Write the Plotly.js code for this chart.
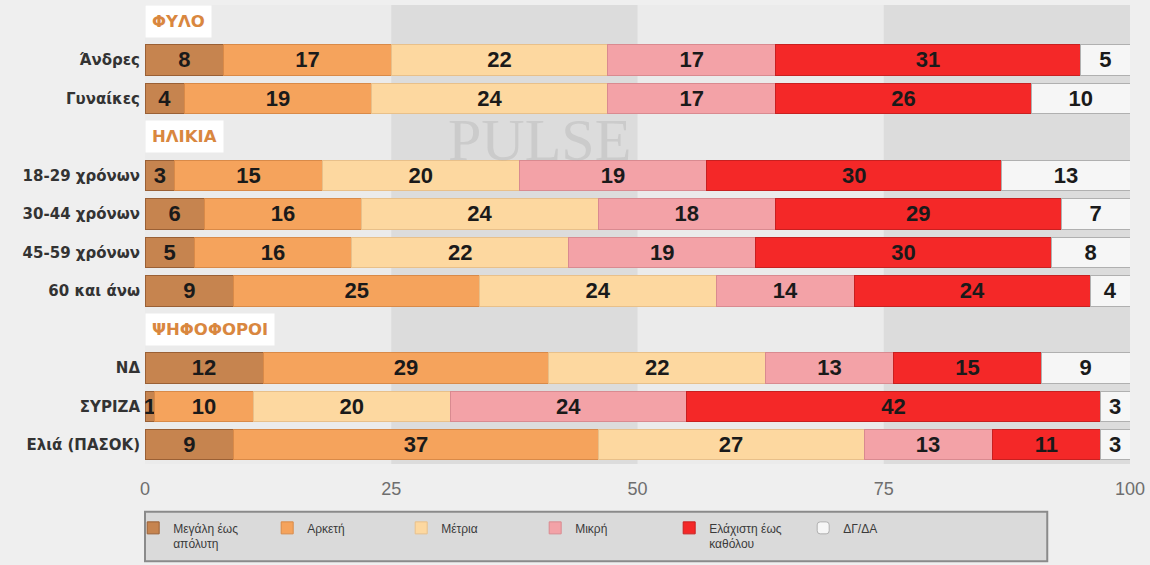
<!DOCTYPE html>
<html>
<head>
<meta charset="utf-8">
<script src="https://cdn.plot.ly/plotly-3.0.1.min.js"></script>
<style>
html,body{margin:0;padding:0;background:#efefef;}
#chart{width:1150px;height:565px;}
</style>
</head>
<body>
<div id="chart"></div>
<script>
// ---- data ----
const groups = ["ΦΥΛΟ", "ΗΛΙΚΙΑ", "ΨΗΦΟΦΟΡΟΙ"];
const groupRows = [
  ["Άνδρες", "Γυναίκες"],
  ["18-29 χρόνων", "30-44 χρόνων", "45-59 χρόνων", "60 και άνω"],
  ["ΝΔ", "ΣΥΡΙΖΑ", "Ελιά (ΠΑΣΟΚ)"]
];
const categories = ["Άνδρες", "Γυναίκες", "18-29 χρόνων", "30-44 χρόνων", "45-59 χρόνων", "60 και άνω", "ΝΔ", "ΣΥΡΙΖΑ", "Ελιά (ΠΑΣΟΚ)"];
const seriesNames = ["Μεγάλη έως<br>απόλυτη", "Αρκετή", "Μέτρια", "Μικρή", "Ελάχιστη έως<br>καθόλου", "ΔΓ/ΔΑ"];
const megali   = [8, 4, 3, 6, 5, 9, 12, 1, 9];
const arketi   = [17, 19, 15, 16, 16, 25, 29, 10, 37];
const metria   = [22, 24, 20, 24, 22, 24, 22, 20, 27];
const mikri    = [17, 17, 19, 18, 19, 14, 13, 24, 13];
const elaxisti = [31, 26, 30, 29, 30, 24, 15, 42, 11];
const dgda     = [5, 10, 13, 7, 8, 4, 9, 3, 3];
const xTicks = [0, 25, 50, 75, 100];
const bands = [[25, 50], [75, 100]];
const watermark = "PULSE";

// ---- styles ----
const colors = ["#c6844f", "#f5a35c", "#fdd8a0", "#f3a2a7", "#f42828", "#f6f6f6"];
const lineColors = ["#9a6035", "#d98a48", "#e8c08a", "#d98a90", "#c82020", "#b0b0b0"];
const values = [megali, arketi, metria, mikri, elaxisti, dgda];

// category order with header rows
const order = [];
const tickText = [];
groups.forEach((g, i) => {
  order.push(g);
  tickText.push("");
  groupRows[i].forEach(r => { order.push(r); tickText.push(r); });
});

const traces = values.map((v, i) => ({
  type: "bar",
  orientation: "h",
  name: seriesNames[i],
  y: categories,
  x: v,
  text: v.map(String),
  textposition: "inside",
  insidetextanchor: "middle",
  textangle: 0,
  textfont: {family: "Liberation Sans, Arial, sans-serif", size: 22, color: "#1a1a1a", weight: "bold"},
  marker: {color: colors[i], line: {color: lineColors[i], width: 1}, cornerradius: i === 5 ? 6 : 0},
  hoverinfo: "skip"
}));

const shapes = bands.map(b => ({
  type: "rect", xref: "x", yref: "paper", x0: b[0], x1: b[1], y0: 0, y1: 1,
  fillcolor: "#dcdcdc", line: {width: 0}, layer: "below"
}));
shapes.push({
  type: "rect", xref: "paper", yref: "paper", x0: 0, x1: 0.916, y0: -0.104, y1: -0.212,
  fillcolor: "#dadada", line: {color: "#8a8a8a", width: 2}, layer: "below"
});

const annotations = groups.map(g => ({
  x: 0, y: g, xref: "x", yref: "y", xanchor: "left", yanchor: "middle",
  text: g, showarrow: false, bgcolor: "#ffffff", borderpad: 6,
  font: {family: "DejaVu Sans, Verdana, sans-serif", size: 16.5, color: "#d9873f", weight: "bold"}
}));
annotations.push({
  x: 0.4, y: 0.705, xref: "paper", yref: "paper", xanchor: "center", yanchor: "middle",
  text: watermark, showarrow: false,
  font: {family: "Liberation Serif, DejaVu Serif, serif", size: 60, color: "rgba(150,150,150,0.25)"}
});

const layout = {
  width: 1150, height: 565,
  margin: {l: 145, r: 20, t: 5, b: 101},
  paper_bgcolor: "#efefef",
  plot_bgcolor: "#ebebeb",
  barmode: "stack",
  bargap: 0.21,
  showlegend: true,
  legend: {
    orientation: "h", x: -0.012, y: -0.108, xanchor: "left", yanchor: "top",
    bgcolor: "rgba(0,0,0,0)", entrywidth: 89, valign: "top",
    font: {family: "Liberation Sans, Arial, sans-serif", size: 12, color: "#3a3a3a"},
    traceorder: "normal"
  },
  uniformtext: {minsize: 22, mode: "show"},
  xaxis: {
    range: [0, 100], tickvals: xTicks, ticktext: xTicks.map(String),
    showgrid: false, zeroline: false, showline: false, ticks: "",
    tickfont: {family: "Liberation Sans, Arial, sans-serif", size: 18, color: "#6e6e6e"},
    ticklabelstandoff: 12, automargin: false, fixedrange: true
  },
  yaxis: {
    type: "category", categoryorder: "array", categoryarray: order,
    tickvals: order, ticktext: tickText,
    autorange: "reversed", showgrid: false, zeroline: false, ticks: "",
    tickfont: {family: "DejaVu Sans, Verdana, sans-serif", size: 15, color: "#333333", weight: "bold"},
    ticklabelstandoff: 4, automargin: false, fixedrange: true
  },
  shapes: shapes,
  annotations: annotations
};

Plotly.newPlot("chart", traces, layout, {displayModeBar: false, staticPlot: true});
</script>
</body>
</html>
